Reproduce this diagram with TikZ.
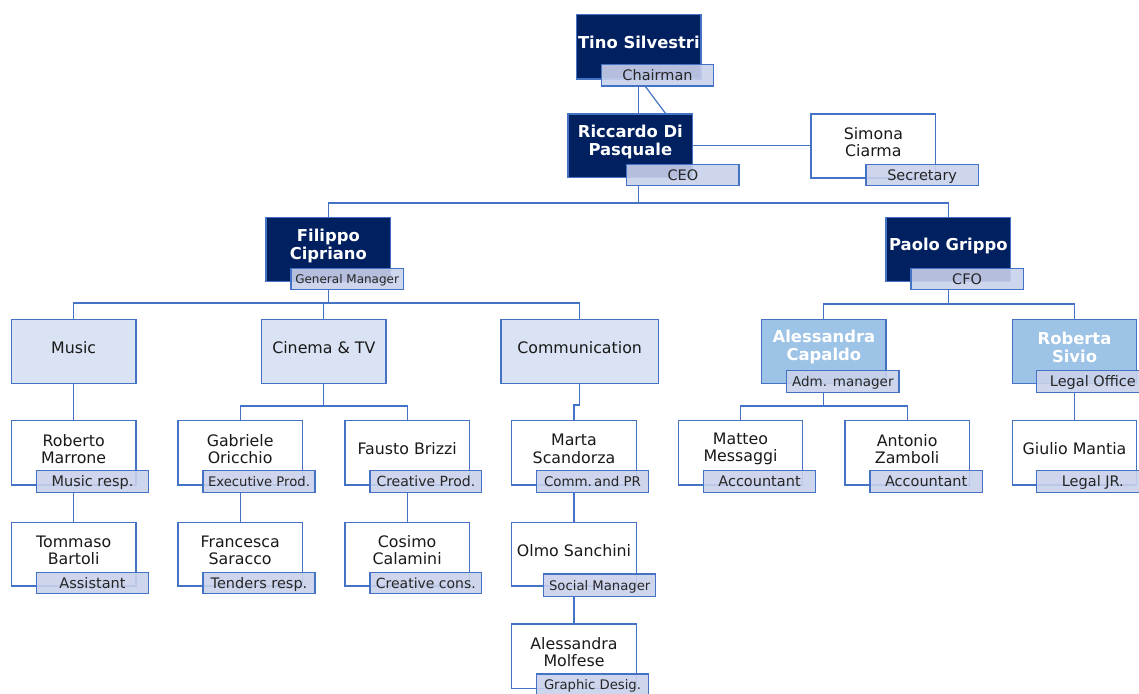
\documentclass[tikz,border=0pt]{standalone}
\usepackage{fontspec}
\setmainfont{DejaVu Sans}
\definecolor{navy}{HTML}{002060}
\definecolor{bord}{HTML}{4472C4}
\definecolor{deptfill}{HTML}{DAE3F3}
\definecolor{labfill}{HTML}{C9D1EB}
\definecolor{ltblue}{HTML}{9DC3E6}
\newcommand\Bx[6]{\node[box,#6,minimum width={(#4-#2)*1pt},minimum height={(#5-#3)*1pt}] (#1) at ({(#2+#4)/2},{(#3+#5)/2}) {};}
\newcommand\Lb[7]{\node[lab,minimum width={(#4-#2)*1pt},minimum height={(#5-#3)*1pt},text height={0.73*#7pt},font=\fontsize{#7}{#7}\selectfont] (#1) at ({(#2+#4)/2},{(#3+#5)/2}) {#6};}
\newcommand\Tx[4]{\node[#3] (#1) at ([yshift=4pt]#2.center) {#4};}
\begin{document}
\begin{tikzpicture}[x=1pt,y=-1pt,
  box/.style={draw=bord,line width=1.1pt,fill=white,inner sep=0pt,outer sep=0pt},
  boss/.style={fill=navy},
  dept/.style={fill=deptfill},
  sub/.style={fill=ltblue},
  lab/.style={draw=bord,line width=1.3pt,fill=labfill,fill opacity=0.9,draw opacity=1,text opacity=1,inner sep=0pt,outer sep=0pt,text=black!85,text depth=0pt},
  nm/.style={align=center,font=\fontsize{15.8}{17.3}\selectfont,text=black!90,inner sep=0pt},
  bnm/.style={align=center,font=\fontsize{16.4}{18}\selectfont\bfseries,text=white,inner sep=0pt},
  conn/.style={draw=bord,line width=1.2pt}]
\useasboundingbox (0,0) rectangle (1139,693);
% boxes
\Bx{tino}{576.7}{14.7}{701}{79}{boss}
\Bx{riccardo}{568}{114}{692.7}{177.7}{boss}
\Bx{simona}{811}{114}{935.7}{178}{}
\Bx{filippo}{266}{217.3}{390.7}{281.7}{boss}
\Bx{paolo}{886}{217.3}{1010.7}{281.7}{boss}
\Bx{music}{11.3}{319.3}{136}{383.3}{dept}
\Bx{cinema}{261.7}{319.3}{386}{383.3}{dept}
\Bx{comm}{501}{319.3}{658.3}{383.3}{dept}
\Bx{alessandra}{761.7}{319.3}{886}{383.3}{sub}
\Bx{roberta}{1012.3}{319.3}{1136.7}{383.3}{sub}
\Bx{roberto}{11.3}{420.7}{136}{485}{}
\Bx{gabriele}{178}{420.7}{302.3}{485}{}
\Bx{fausto}{345}{420.7}{469.3}{485}{}
\Bx{marta}{511.7}{420.7}{636.3}{485}{}
\Bx{matteo}{678.3}{420.7}{802.7}{485}{}
\Bx{antonio}{845}{420.7}{969.3}{485}{}
\Bx{giulio}{1012.3}{420.7}{1136.7}{485}{}
\Bx{tommaso}{11.3}{522.3}{136}{586}{}
\Bx{francesca}{178}{522.3}{302.3}{586}{}
\Bx{cosimo}{345}{522.3}{469.3}{586}{}
\Bx{olmo}{511.7}{522.3}{636.3}{586}{}
\Bx{molfese}{511.7}{624}{636.3}{688.3}{}
% texts
\Tx{tinoT}{tino}{bnm}{Tino Silvestri}
\Tx{riccardoT}{riccardo}{bnm}{Riccardo Di\\Pasquale}
\Tx{simonaT}{simona}{nm}{Simona\\Ciarma}
\Tx{filippoT}{filippo}{bnm}{Filippo\\Cipriano}
\Tx{paoloT}{paolo}{bnm}{Paolo Grippo}
\Tx{musicT}{music}{nm}{Music}
\Tx{cinemaT}{cinema}{nm}{Cinema \& TV}
\Tx{commT}{comm}{nm}{Communication}
\Tx{alessandraT}{alessandra}{bnm}{Alessandra\\Capaldo}
\Tx{robertaT}{roberta}{bnm}{Roberta\\Sivio}
\Tx{robertoT}{roberto}{nm}{Roberto\\Marrone}
\Tx{gabrieleT}{gabriele}{nm}{Gabriele\\Oricchio}
\Tx{faustoT}{fausto}{nm}{Fausto Brizzi}
\Tx{martaT}{marta}{nm}{Marta\\Scandorza}
\Tx{matteoT}{matteo}{nm}{Matteo\\Messaggi}
\Tx{antonioT}{antonio}{nm}{Antonio\\Zamboli}
\Tx{giulioT}{giulio}{nm}{Giulio Mantia}
\Tx{tommasoT}{tommaso}{nm}{Tommaso\\Bartoli}
\Tx{francescaT}{francesca}{nm}{Francesca\\Saracco}
\Tx{cosimoT}{cosimo}{nm}{Cosimo\\Calamini}
\Tx{olmoT}{olmo}{nm}{Olmo Sanchini}
\Tx{molfeseT}{molfese}{nm}{Alessandra\\Molfese}
% labels
\Lb{chair}{601.7}{64.3}{713.3}{86}{Chairman}{14.5}
\Lb{ceo}{626.7}{164.7}{739}{185.7}{CEO}{14.5}
\Lb{secr}{866}{164.3}{978.3}{185.3}{Secretary}{14.5}
\Lb{gm}{291}{268.3}{403.3}{289.3}{General Manager}{12}
\Lb{cfo}{911}{268.3}{1023.3}{289.3}{CFO}{14.5}
\Lb{adm}{786.7}{370.7}{899}{392.3}{Adm. manager}{13.5}
\Lb{legal}{1036.7}{370.7}{1149}{392.3}{Legal Office}{14.5}
\Lb{musresp}{36.7}{470.7}{148.3}{492.3}{Music resp.}{14.5}
\Lb{exec}{203}{470.7}{315}{492.3}{Executive Prod.}{13.2}
\Lb{cprod}{370}{470.7}{481.7}{492.3}{Creative Prod.}{14}
\Lb{commpr}{536.7}{470.7}{648.3}{492.3}{Comm.\,and PR}{13.4}
\Lb{acc1}{703.3}{470.7}{815.7}{492.3}{Accountant}{14.5}
\Lb{acc2}{870}{470.7}{982.3}{492.3}{Accountant}{14.5}
\Lb{legaljr}{1036.7}{470.7}{1149}{492.3}{Legal JR.}{14.5}
\Lb{assist}{36.7}{572.7}{148.3}{593.3}{Assistant}{14.5}
\Lb{tenders}{203}{572.7}{315}{593.3}{Tenders resp.}{14.5}
\Lb{ccons}{370}{572.7}{481.7}{593.3}{Creative cons.}{14}
\Lb{social}{543.7}{574}{655.7}{596.7}{Social Manager}{13.2}
\Lb{graphic}{536.7}{674}{648.3}{695}{Graphic Desig.}{13.2}
% connectors
\draw[conn] (tino.center |- chair.south) -- (tino.center |- riccardo.north);
\draw[conn] ([xshift=-12.5pt]chair.south) -- ([xshift=35.6pt]riccardo.north);
\draw[conn] (riccardo.east) -- (riccardo.east -| simona.west);
\coordinate (j1) at (tino.center |- 0,203);
\draw[conn] (tino.center |- ceo.south) -- (j1);
\draw[conn] (filippo.north) |- (j1) -| (paolo.north);
\coordinate (j2) at (filippo.center |- 0,303);
\draw[conn] (filippo.center |- gm.south) -- (j2);
\draw[conn] (music.north) |- (j2) -| (comm.north);
\draw[conn] (cinema.north) -- (cinema.north |- j2);
\draw[conn] (music.south) -- (roberto.north);
\draw[conn] (roberto.center |- musresp.south) -- (tommaso.north);
\coordinate (j3) at (cinema.south |- 0,406);
\draw[conn] (cinema.south) -- (j3);
\draw[conn] (gabriele.north) |- (j3) -| (fausto.north);
\draw[conn] (gabriele.center |- exec.south) -- (francesca.north);
\draw[conn] (fausto.center |- cprod.south) -- (cosimo.north);
\coordinate (j4) at (comm.south |- 0,405);
\draw[conn] (comm.south) -- (j4) -| (marta.north);
\draw[conn] (marta.center |- commpr.south) -- (olmo.north);
\draw[conn] (olmo.center |- social.south) -- (molfese.north);
\coordinate (j5) at (paolo.center |- 0,304);
\draw[conn] (paolo.center |- cfo.south) -- (j5);
\draw[conn] (alessandra.north) |- (j5) -| (roberta.north);
\coordinate (j6) at (alessandra.center |- 0,406);
\draw[conn] (alessandra.center |- adm.south) -- (j6);
\draw[conn] (matteo.north) |- (j6) -| (antonio.north);
\draw[conn] (roberta.center |- legal.south) -- (giulio.north);
\end{tikzpicture}
\end{document}
